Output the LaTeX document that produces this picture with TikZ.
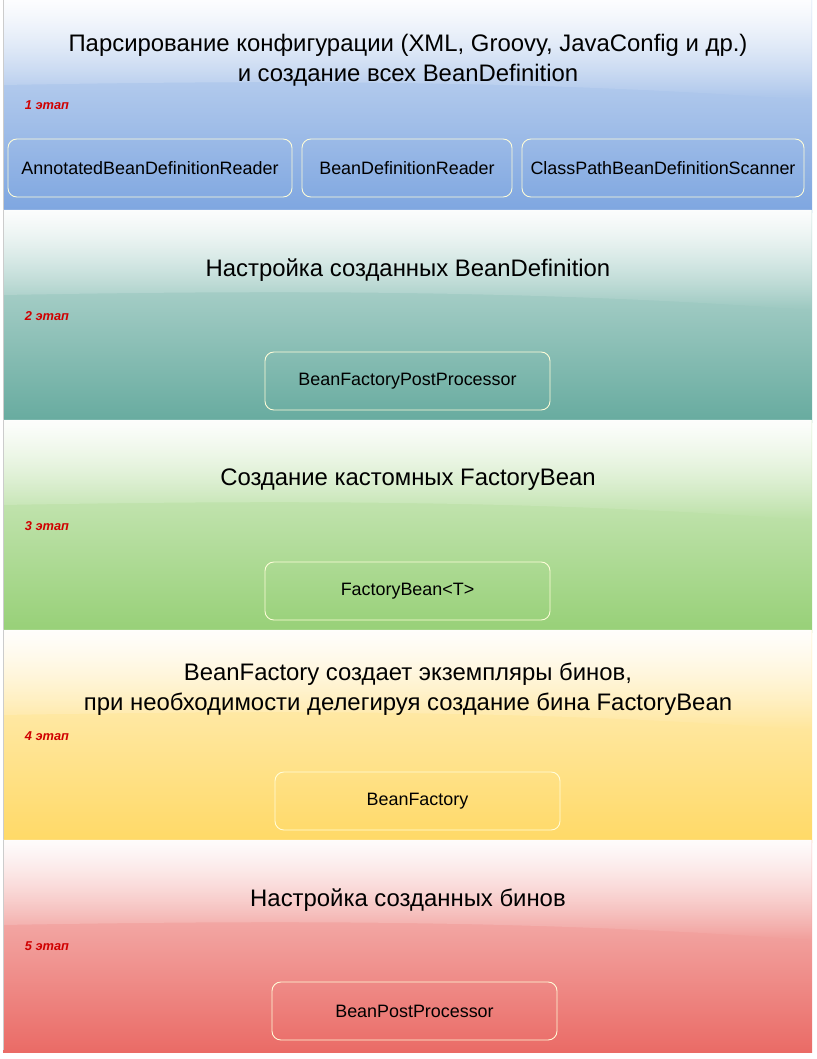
\documentclass[tikz,border=0pt]{standalone}
\usepackage{fontspec}
\setmainfont{Liberation Sans}
\usetikzlibrary{fadings}
\definecolor{cblue}{HTML}{7EA6E0}
\definecolor{cteal}{HTML}{67AB9F}
\definecolor{cgreen}{HTML}{97D077}
\definecolor{cyellow}{HTML}{FFD966}
\definecolor{cred}{HTML}{EA6B66}
\definecolor{lblred}{HTML}{D00000}
\tikzset{
  classbox/.style={draw=yellow!15!white, rounded corners=5pt, line width=0.5pt, minimum height=1.16cm, font=\fontsize{10.2}{12}\selectfont, inner sep=0pt},
  title/.style={align=center, font=\fontsize{13.6}{17}\selectfont},
  stage/.style={text=lblred, font=\fontsize{7.3}{8}\selectfont\bfseries\itshape}
}
\begin{document}
\begin{tikzpicture}[x=0.02cm,y=-0.02cm]
			\useasboundingbox (0,0) rectangle (816,1059);
			% bands with gloss
			\foreach \c/\t in {cblue/0, cteal/210, cgreen/420, cyellow/630, cred/840}
			{	\shade[top color=\c!35!white, bottom color=\c] (3,\t) rectangle (812,\t+212);
				\fill[white, path fading=south, fill opacity=0.95] (3,\t) -- (812,\t) -- (812,\t+100)
				  .. controls (540,\t+80) and (280,\t+80) .. (3,\t+85) -- cycle;
				\draw[gray!40] (3,\t) -- (3,\t+210);
			}
			\node[title] (t1) at (408,60) {Парсирование конфигурации (XML, Groovy, JavaConfig и др.)\\и создание всех BeanDefinition};
			\node[title] (t2) at (408,270) {Настройка созданных BeanDefinition};
			\node[title] (t3) at (408,480) {Создание кастомных FactoryBean};
			\node[title] (t4) at (408,689) {BeanFactory создает экземпляры бинов,\\при необходимости делегируя создание бина FactoryBean};
			\node[title] (t5) at (408,900) {Настройка созданных бинов};
			\foreach \n/\y in {1/105, 2/316, 3/526, 4/736, 5/946}
			{	\node[stage] (s\n) at (47,\y) {\n\ этап};
			}
			\node[classbox, minimum width=5.68cm] (r1) at (150,168) {AnnotatedBeanDefinitionReader};
			\node[classbox, minimum width=4.2cm] (r2) at (407,168) {BeanDefinitionReader};
			\node[classbox, minimum width=5.64cm] (r3) at (663,168) {ClassPathBeanDefinitionScanner};
			\node[classbox, minimum width=5.7cm] (bfpp) at (407.5,381) {BeanFactoryPostProcessor};
			\node[classbox, minimum width=5.7cm] (fb) at (407.5,591) {FactoryBean<T>};
			\node[classbox, minimum width=5.7cm] (bf) at (417.5,801) {BeanFactory};
			\node[classbox, minimum width=5.7cm] (bpp) at (414.5,1011) {BeanPostProcessor};
\end{tikzpicture}
\end{document}
